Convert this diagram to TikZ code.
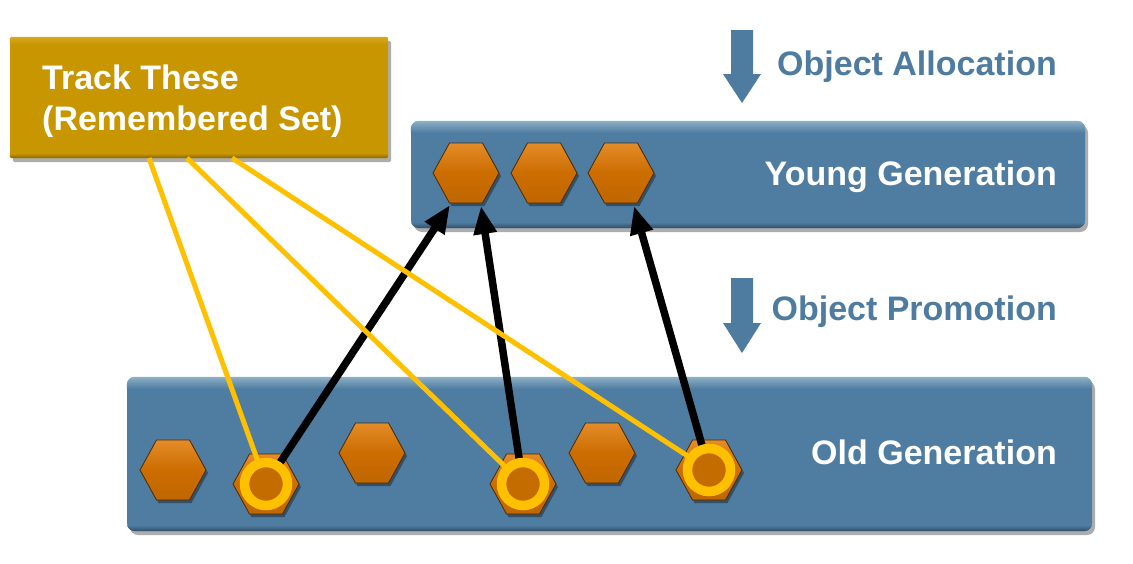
\documentclass[tikz,border=0pt]{standalone}
\usepackage{fontspec}
\setmainfont{Liberation Sans}
\usetikzlibrary{shadows,arrows.meta,calc}
\definecolor{genblue}{HTML}{4F7CA1}
\definecolor{genbluelight}{HTML}{8DB0C6}
\definecolor{genbluedark}{HTML}{2F4E66}
\definecolor{goldbox}{HTML}{C89600}
\definecolor{goldlight}{HTML}{D9A820}
\definecolor{golddark}{HTML}{8A6700}
\definecolor{hexor}{HTML}{CC6D00}
\definecolor{hexlight}{HTML}{E48C2A}
\definecolor{hexedge}{HTML}{4A2A00}
\definecolor{ringy}{HTML}{FFC000}
\definecolor{ringin}{HTML}{C46C00}
\definecolor{labelblue}{HTML}{4E7BA0}
\begin{document}
\begin{tikzpicture}[x=1pt,y=-1pt,
  genbox/.style={fill=genblue, rounded corners=8pt, inner sep=0pt,
    drop shadow={shadow xshift=3pt,shadow yshift=-4pt,opacity=0.4,fill=black!80}},
  trackbox/.style={fill=goldbox, rounded corners=1.5pt, inner sep=0pt,
    drop shadow={shadow xshift=3pt,shadow yshift=-4pt,opacity=0.4,fill=black!80}},
  hexstyle/.style={top color=hexlight, bottom color=hexor!94!black, middle color=hexor,
    draw=hexedge, line width=0.8pt,
    drop shadow={shadow xshift=2pt,shadow yshift=-3pt,opacity=0.35,fill=black}},
  hexagon/.pic={\path[hexstyle] (33,0)--(16.5,30)--(-16.5,30)--(-33,0)--(-16.5,-30)--(16.5,-30)--cycle;},
  ring/.style={circle, draw=ringy, fill=ringin, line width=9.5pt, minimum size=43pt, inner sep=0pt},
  refarrow/.style={draw=black, line width=7.5pt, -{Triangle[length=28pt,width=22pt]}},
  trackline/.style={draw=ringy, line width=5pt},
  boxlabel/.style={text=white, font=\fontsize{34}{40}\selectfont\bfseries, inner sep=0pt},
  steplabel/.style={text=labelblue, font=\fontsize{34}{40}\selectfont\bfseries, inner sep=0pt},
  bigarrow/.style={fill=labelblue},
]
\useasboundingbox[fill=white] (0,0) rectangle (1133,563);

% ---- boxes
\node[trackbox, minimum width=378pt, minimum height=121pt] (track) at (199,97.5) {};
\begin{scope}
  \clip[rounded corners=1.5pt] (track.north west) rectangle (track.south east);
  \shade[top color=goldlight, bottom color=goldbox] (track.north west) rectangle ($(track.north east)+(0,8)$);
  \shade[top color=goldbox, bottom color=golddark] ($(track.south west)+(0,-5)$) rectangle (track.south east);
\end{scope}

\node[genbox, minimum width=674pt, minimum height=107pt] (young) at (748,174.5) {};
\begin{scope}
  \clip[rounded corners=8pt] (young.north west) rectangle (young.south east);
  \shade[top color=genbluelight, bottom color=genblue] (young.north west) rectangle ($(young.north east)+(0,12)$);
  \shade[top color=genblue, bottom color=genbluedark] ($(young.south west)+(0,-6)$) rectangle (young.south east);
\end{scope}

\node[genbox, minimum width=965pt, minimum height=154pt] (old) at (609.5,454) {};
\begin{scope}
  \clip[rounded corners=8pt] (old.north west) rectangle (old.south east);
  \shade[top color=genbluelight, bottom color=genblue] (old.north west) rectangle ($(old.north east)+(0,12)$);
  \shade[top color=genblue, bottom color=genbluedark] ($(old.south west)+(0,-6)$) rectangle (old.south east);
\end{scope}

% ---- labels
\node[boxlabel, anchor=base west] (tl1) at (42,89) {Track These};
\node[boxlabel, anchor=base west] (tl2) at (42,130) {(Remembered Set)};
\node[boxlabel, anchor=base east] (yl) at (1057,185) {Young Generation};
\node[boxlabel, anchor=base east] (ol) at (1057,464) {Old Generation};
\node[steplabel, anchor=base east] (al) at (1057,75) {Object Allocation};
\node[steplabel, anchor=base east] (pl) at (1057,320) {Object Promotion};

% ---- blue step arrows
\fill[bigarrow] (731,30) -- (753,30) -- (753,74) -- (761,74) -- (742,103) -- (723,74) -- (731,74) -- cycle;
\fill[bigarrow] (731,278) -- (753,278) -- (753,323) -- (761,323) -- (742,353) -- (723,323) -- (731,323) -- cycle;

% ---- hexagon positions
\coordinate (y1) at (466,173);
\coordinate (y2) at (544,173);
\coordinate (y3) at (621,173);
\coordinate (o1) at (173,470);
\coordinate (o2) at (266,484);
\coordinate (o3) at (372,453);
\coordinate (o4) at (523,484);
\coordinate (o5) at (602,453);
\coordinate (o6) at (709,470);

\foreach \h in {y1,y2,y3,o1,o2,o3,o4,o5,o6} \pic at (\h) {hexagon};

% ---- reference arrows (old -> young)
\coordinate (tipA) at (450,205);
\coordinate (tipB) at (481,206);
\coordinate (tipC) at (634,206);
\draw[refarrow] (o2) -- (tipA);
\draw[refarrow] (o4) -- (tipB);
\draw[refarrow] (o6) -- (tipC);

% ---- remembered set lines
\coordinate (t1) at (149,158);
\coordinate (t2) at (187,158);
\coordinate (t3) at (232,158);
\draw[trackline] (t1) -- (o2);
\draw[trackline] (t2) -- (o4);
\draw[trackline] (t3) -- (o6);

% ---- rings
\node[ring] (r2) at (o2) {};
\node[ring] (r4) at (o4) {};
\node[ring] (r6) at (o6) {};
\end{tikzpicture}
\end{document}
